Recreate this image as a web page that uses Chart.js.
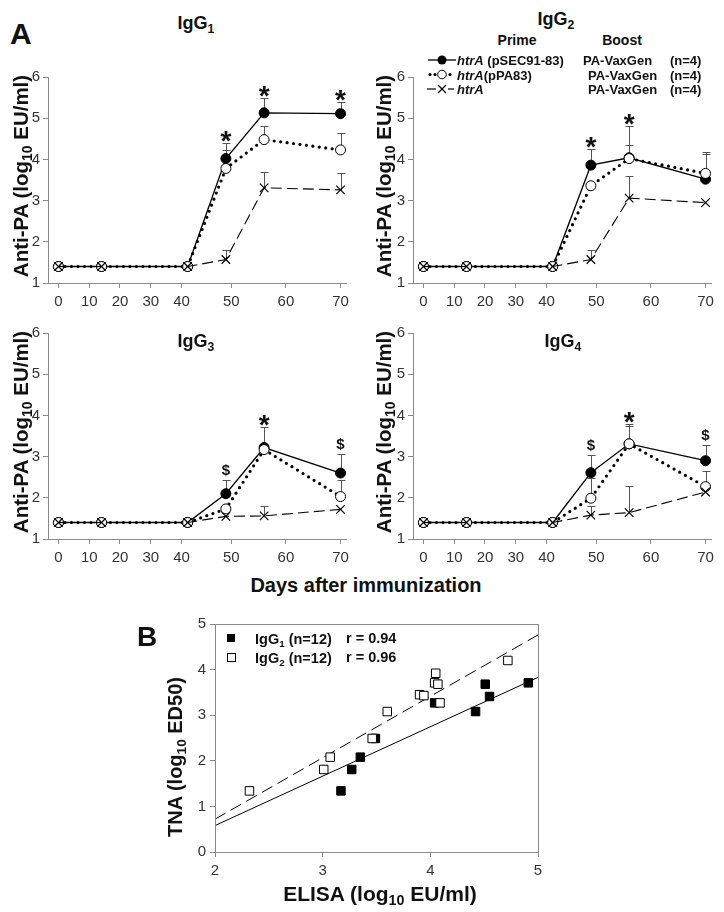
<!DOCTYPE html>
<html>
<head>
<meta charset="utf-8">
<script src="https://cdn.jsdelivr.net/npm/chart.js@4.4.1/dist/chart.umd.min.js"></script>
<style>
  body { margin: 0; background: #fff; width: 724px; height: 912px; position: relative; overflow: hidden;
         font-family: Arial, "Liberation Sans", sans-serif; color: #111; }
  canvas { position: absolute; }
  .t { position: absolute; font-weight: bold; white-space: nowrap; line-height: 1; z-index: 2; }
  .c { transform: translate(-50%, -50%); }
  .v { transform: translate(-50%, -50%) rotate(-90deg); }
  .l { transform: translate(0, -50%); }
  sub { font-size: 68%; vertical-align: -0.3em; line-height: 0; }
  i { font-style: italic; }
  #legA { position: absolute; left: 426px; top: 52px; z-index: 2; }
</style>
</head>
<body>
<canvas id="a1" width="360" height="248" style="left:0;top:65px"></canvas>
<canvas id="a2" width="358" height="248" style="left:365px;top:65px"></canvas>
<canvas id="a3" width="360" height="248" style="left:0;top:321px"></canvas>
<canvas id="a4" width="358" height="248" style="left:365px;top:321px"></canvas>
<canvas id="b" width="400" height="278" style="left:150px;top:610px"></canvas>

<div class="t" style="left:10px;top:19px;font-size:30px">A</div>
<div class="t c" style="left:196px;top:23px;font-size:18px">IgG<sub>1</sub></div>
<div class="t c" style="left:556px;top:19px;font-size:18px">IgG<sub>2</sub></div>
<div class="t c" style="left:196px;top:341px;font-size:18px">IgG<sub>3</sub></div>
<div class="t c" style="left:563px;top:341px;font-size:18px">IgG<sub>4</sub></div>

<div class="t c" style="left:517px;top:40px;font-size:14px">Prime</div>
<div class="t c" style="left:622px;top:40px;font-size:14px">Boost</div>
<svg id="legA" width="32" height="46">
  <line x1="2" y1="8" x2="30" y2="8" stroke="#000" stroke-width="1.3"/>
  <circle cx="16" cy="8" r="4.5" fill="#000"/>
  <circle cx="4" cy="22.5" r="1.6" fill="#000"/>
  <circle cx="9" cy="22.5" r="1.6" fill="#000"/>
  <circle cx="16" cy="22.5" r="4.3" fill="#fff" stroke="#000" stroke-width="1"/>
  <circle cx="24" cy="22.5" r="1.6" fill="#000"/>
  <line x1="1" y1="37" x2="10" y2="37" stroke="#000" stroke-width="1.2"/>
  <line x1="12" y1="33" x2="20" y2="41" stroke="#000" stroke-width="1.2"/>
  <line x1="12" y1="41" x2="20" y2="33" stroke="#000" stroke-width="1.2"/>
  <line x1="22" y1="37" x2="28" y2="37" stroke="#000" stroke-width="1.2"/>
</svg>
<div class="t l" style="left:457px;top:60px;font-size:13px"><i>htrA</i> (pSEC91-83)</div>
<div class="t l" style="left:457px;top:74.5px;font-size:13px"><i>htrA</i>(pPA83)</div>
<div class="t l" style="left:457px;top:89px;font-size:13px"><i>htrA</i></div>
<div class="t l" style="left:583px;top:60px;font-size:13px">PA-VaxGen</div>
<div class="t l" style="left:588px;top:74.5px;font-size:13px">PA-VaxGen</div>
<div class="t l" style="left:588px;top:89px;font-size:13px">PA-VaxGen</div>
<div class="t l" style="left:670px;top:60px;font-size:13px">(n=4)</div>
<div class="t l" style="left:670px;top:74.5px;font-size:13px">(n=4)</div>
<div class="t l" style="left:670px;top:89px;font-size:13px">(n=4)</div>

<div class="t v" style="left:21px;top:176px;font-size:20.5px">Anti-PA (log<sub>10</sub> EU/ml)</div>
<div class="t v" style="left:384px;top:176px;font-size:20.5px">Anti-PA (log<sub>10</sub> EU/ml)</div>
<div class="t v" style="left:21px;top:432px;font-size:20.5px">Anti-PA (log<sub>10</sub> EU/ml)</div>
<div class="t v" style="left:384px;top:432px;font-size:20.5px">Anti-PA (log<sub>10</sub> EU/ml)</div>
<div class="t c" style="left:366px;top:585px;font-size:20px">Days after immunization</div>

<div class="t c" style="left:147px;top:637px;font-size:28px">B</div>
<div class="t" style="left:227px;top:634px;width:8px;height:8px;background:#000"></div>
<div class="t" style="left:227px;top:653px;width:7px;height:7px;border:1px solid #000;background:#fff"></div>
<div class="t l" style="left:255px;top:639px;font-size:14.5px">IgG<sub>1</sub> (n=12)</div>
<div class="t l" style="left:255px;top:658px;font-size:14.5px">IgG<sub>2</sub> (n=12)</div>
<div class="t l" style="left:346px;top:638px;font-size:14.5px">r = 0.94</div>
<div class="t l" style="left:346px;top:657px;font-size:14.5px">r = 0.96</div>
<div class="t v" style="left:175px;top:757px;font-size:20px">TNA (log<sub>10</sub> ED50)</div>
<div class="t c" style="left:380px;top:893px;font-size:21px">ELISA (log<sub>10</sub> EU/ml)</div>

<script>
// sampling days and axis ticks
const days = [0, 14, 42, 49, 56, 70];
const dayTicks = [0, 10, 20, 30, 40, 50, 60, 70];

// IgG1
const igg1Sec = [1.4, 1.4, 1.4, 4.02, 5.13, 5.11];
const igg1SecErr = [null, null, null, 4.41, 5.50, 5.40];
const igg1Pa = [1.4, 1.4, 1.4, 3.78, 4.48, 4.23];
const igg1PaErr = [null, null, null, 4.24, 4.81, 4.64];
const igg1Ctl = [1.4, 1.4, 1.4, 1.57, 3.31, 3.26];
const igg1CtlErr = [null, null, null, 1.79, 3.70, 3.68];
const igg1Marks = ['', '', '', '*', '*', '*'];

// IgG2
const igg2Sec = [1.4, 1.4, 1.4, 3.86, 4.04, 3.52];
const igg2SecErr = [null, null, null, 4.25, 4.81, 4.17];
const igg2Pa = [1.4, 1.4, 1.4, 3.36, 4.02, 3.66];
const igg2PaErr = [null, null, null, null, 4.35, 4.12];
const igg2Ctl = [1.4, 1.4, 1.4, 1.57, 3.06, 2.95];
const igg2CtlErr = [null, null, null, 1.80, 3.60, null];
const igg2Marks = ['', '', '', '*', '*', ''];

// IgG3
const igg3Sec = [1.4, 1.4, 1.4, 2.10, 3.22, 2.60];
const igg3SecErr = [null, null, null, 2.44, 3.72, 3.07];
const igg3Pa = [1.4, 1.4, 1.4, 1.73, 3.17, 2.03];
const igg3PaErr = [null, null, null, null, null, 2.43];
const igg3Ctl = [1.4, 1.4, 1.4, 1.55, 1.56, 1.72];
const igg3CtlErr = [null, null, null, null, 1.79, null];
const igg3Marks = ['', '', '', '$', '*', '$'];

// IgG4
const igg4Sec = [1.4, 1.4, 1.4, 2.61, 3.31, 2.90];
const igg4SecErr = [null, null, null, 3.04, 3.80, 3.28];
const igg4Pa = [1.4, 1.4, 1.4, 1.99, 3.31, 2.27];
const igg4PaErr = [null, null, null, 2.48, 3.74, 2.66];
const igg4Ctl = [1.4, 1.4, 1.4, 1.58, 1.64, 2.14];
const igg4CtlErr = [null, null, null, 1.79, 2.28, null];
const igg4Marks = ['', '', '', '$', '*', '$'];

// panel B: ELISA vs TNA
const elisaG1 = [3.17, 3.27, 3.35, 3.49, 4.04, 4.42, 4.51, 4.55, 4.91];
const tnaG1 = [1.34, 1.81, 2.08, 2.49, 3.27, 3.08, 3.68, 3.41, 3.71];
const elisaG2 = [2.32, 3.01, 3.07, 3.46, 3.60, 3.90, 3.94, 4.05, 4.04, 4.07, 4.09, 4.72];
const tnaG2 = [1.34, 1.81, 2.08, 2.49, 3.08, 3.45, 3.43, 3.92, 3.71, 3.68, 3.27, 4.20];
const fitX = [2, 5];
const fitG1 = [0.58, 3.83];
const fitG2 = [0.72, 4.76];

const FONT = 'Arial, "Liberation Sans", sans-serif';
const AXIS = '#8a8a8a';
const TICK = '#333';

// x axis of panel A: days 0-42 compressed, 42-70 stretched (as in the original)
const BREAK = 42, STRETCH = 1.775;
const warp = d => d <= BREAK ? d : BREAK + (d - BREAK) * STRETCH;
const unwarp = t => t <= BREAK ? t : BREAK + (t - BREAK) / STRETCH;

class BrokenAxis extends Chart.LinearScale {
  static id = 'broken';
  static defaults = {};
  configure() {
    super.configure();
    this._startValue = warp(this.min);
    this._valueRange = warp(this.max) - this._startValue;
  }
  getPixelForValue(v) {
    if (v === null) return NaN;
    return this.getPixelForDecimal((warp(v) - this._startValue) / this._valueRange);
  }
  getValueForPixel(p) {
    return unwarp(this._startValue + this.getDecimalForPixel(p) * this._valueRange);
  }
}
Chart.register(BrokenAxis);

function errMarks(bars, marks) {
  return {
    id: 'errMarks',
    beforeDatasetsDraw(chart) {
      const { ctx } = chart, x = chart.scales.x, y = chart.scales.y;
      ctx.save();
      ctx.strokeStyle = '#555';
      ctx.lineWidth = 1;
      bars.forEach(([vals, errs]) => {
        errs.forEach((e, i) => {
          if (e == null) return;
          const px = Math.round(x.getPixelForValue(days[i])) + 0.5;
          const y0 = y.getPixelForValue(vals[i]);
          const y1 = Math.round(y.getPixelForValue(e)) + 0.5;
          ctx.beginPath();
          ctx.moveTo(px, y0); ctx.lineTo(px, y1);
          ctx.moveTo(px - 4, y1); ctx.lineTo(px + 4, y1);
          ctx.stroke();
        });
      });
      ctx.restore();
    },
    afterDatasetsDraw(chart) {
      const { ctx } = chart, x = chart.scales.x, y = chart.scales.y;
      ctx.save();
      ctx.fillStyle = '#111';
      ctx.textAlign = 'center';
      ctx.textBaseline = 'alphabetic';
      marks.forEach((m, i) => {
        if (!m) return;
        const cand = bars.flatMap(([v, e]) => [v[i], e[i]]).filter(v => v != null);
        const top = y.getPixelForValue(Math.max(...cand));
        const px = x.getPixelForValue(days[i]);
        if (m === '*') {
          ctx.font = 'bold 28px ' + FONT;
          ctx.fillText(m, px, top + 7);
        } else {
          ctx.font = 'bold 15px ' + FONT;
          ctx.fillText(m, px, top - 5);
        }
      });
      ctx.restore();
    }
  };
}

function series(vals) {
  return days.map((d, i) => ({ x: d, y: vals[i] }));
}

function timeChart(id, sec, secErr, pa, paErr, ctl, ctlErr, marks, padRight) {
  new Chart(document.getElementById(id), {
    type: 'line',
    data: {
      datasets: [
        {
          label: 'htrA (pSEC91-83)', data: series(sec), order: 3,
          borderColor: '#000', borderWidth: 1.3,
          pointStyle: 'circle', pointRadius: 5,
          pointBackgroundColor: '#000', pointBorderColor: '#000', pointBorderWidth: 1
        },
        {
          label: 'htrA(pPA83)', data: series(pa), order: 2,
          borderColor: '#000', borderWidth: 3.2, borderDash: [0, 6.5], borderCapStyle: 'round',
          pointStyle: 'circle', pointRadius: 5,
          pointBackgroundColor: '#fff', pointBorderColor: '#000', pointBorderWidth: 1
        },
        {
          label: 'htrA', data: series(ctl), order: 1,
          borderColor: '#000', borderWidth: 1.1, borderDash: [11, 5],
          pointStyle: 'crossRot', pointRadius: 6,
          pointBorderColor: '#000', pointBorderWidth: 1.2
        }
      ]
    },
    options: {
      responsive: false, animation: false, devicePixelRatio: 1,
      layout: { padding: { left: 0, top: 10, right: padRight, bottom: 0 } },
      plugins: { legend: { display: false }, tooltip: { enabled: false } },
      scales: {
        x: {
          type: 'broken', min: -3.4, max: 71,
          afterBuildTicks: s => { s.ticks = dayTicks.map(v => ({ value: v })); },
          afterFit: s => { s.height = 30; },
          border: { color: AXIS, width: 1 },
          grid: { drawOnChartArea: false, drawTicks: true, tickLength: 5, color: AXIS },
          ticks: { autoSkip: false, maxRotation: 0, padding: 5, color: TICK, font: { family: FONT, size: 15 } }
        },
        y: {
          min: 1, max: 6,
          afterFit: s => { s.width = 48; },
          border: { color: AXIS, width: 1 },
          grid: { drawOnChartArea: false, drawTicks: true, tickLength: 5, color: AXIS },
          ticks: { stepSize: 1, padding: 3, color: TICK, font: { family: FONT, size: 15 } }
        }
      }
    },
    plugins: [errMarks([[sec, secErr], [pa, paErr], [ctl, ctlErr]], marks)]
  });
}

timeChart('a1', igg1Sec, igg1SecErr, igg1Pa, igg1PaErr, igg1Ctl, igg1CtlErr, igg1Marks, 14);
timeChart('a2', igg2Sec, igg2SecErr, igg2Pa, igg2PaErr, igg2Ctl, igg2CtlErr, igg2Marks, 12);
timeChart('a3', igg3Sec, igg3SecErr, igg3Pa, igg3PaErr, igg3Ctl, igg3CtlErr, igg3Marks, 14);
timeChart('a4', igg4Sec, igg4SecErr, igg4Pa, igg4PaErr, igg4Ctl, igg4CtlErr, igg4Marks, 12);

// panel B
const boxPlugin = {
  id: 'box',
  afterDraw(chart) {
    const { ctx, chartArea: a } = chart;
    ctx.save();
    ctx.strokeStyle = AXIS;
    ctx.lineWidth = 1;
    ctx.strokeRect(Math.round(a.left) + 0.5, Math.round(a.top) + 0.5,
                   Math.round(a.right - a.left), Math.round(a.bottom - a.top));
    ctx.restore();
  }
};

new Chart(document.getElementById('b'), {
  type: 'scatter',
  data: {
    datasets: [
      {
        label: 'IgG2 (n=12)', data: elisaG2.map((x, i) => ({ x, y: tnaG2[i] })), order: 1,
        pointStyle: 'rect', pointRadius: 6,
        pointBackgroundColor: '#fff', pointBorderColor: '#000', pointBorderWidth: 1
      },
      {
        label: 'IgG1 (n=12)', data: elisaG1.map((x, i) => ({ x, y: tnaG1[i] })), order: 2,
        pointStyle: 'rect', pointRadius: 6,
        pointBackgroundColor: '#000', pointBorderColor: '#000', pointBorderWidth: 1
      },
      {
        type: 'line', label: 'IgG2 fit', data: fitX.map((x, i) => ({ x, y: fitG2[i] })), order: 3,
        borderColor: '#000', borderWidth: 1, borderDash: [12, 6], pointRadius: 0
      },
      {
        type: 'line', label: 'IgG1 fit', data: fitX.map((x, i) => ({ x, y: fitG1[i] })), order: 4,
        borderColor: '#000', borderWidth: 1, pointRadius: 0
      }
    ]
  },
  options: {
    responsive: false, animation: false, devicePixelRatio: 1,
    layout: { padding: { left: 0, top: 14, right: 12, bottom: 0 } },
    plugins: { legend: { display: false }, tooltip: { enabled: false } },
    scales: {
      x: {
        type: 'linear', min: 2, max: 5,
        afterFit: s => { s.height = 36; },
        border: { color: AXIS, width: 1 },
        grid: { drawOnChartArea: false, drawTicks: true, tickLength: 5, color: AXIS },
        ticks: { stepSize: 1, padding: 5, color: TICK, font: { family: FONT, size: 15 } }
      },
      y: {
        min: 0, max: 5,
        afterFit: s => { s.width = 65; },
        border: { color: AXIS, width: 1 },
        grid: { drawOnChartArea: false, drawTicks: true, tickLength: 5, color: AXIS },
        ticks: { stepSize: 1, padding: 4, color: TICK, font: { family: FONT, size: 15 } }
      }
    }
  },
  plugins: [boxPlugin]
});
</script>
</body>
</html>
